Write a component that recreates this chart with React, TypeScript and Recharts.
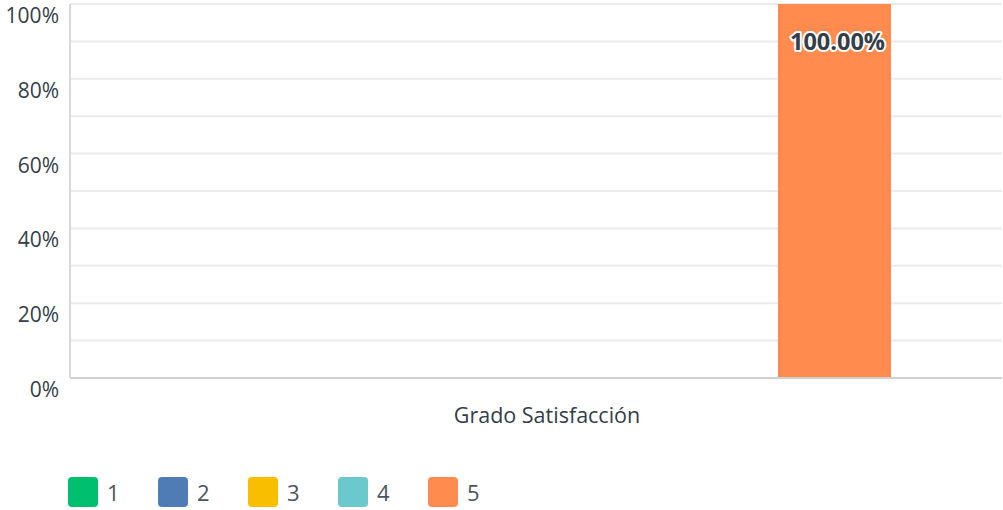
import React from "react";
import { BarChart, Bar, XAxis, YAxis, CartesianGrid, LabelList } from "recharts";

const categories = ["Grado Satisfacción"];
const seriesNames = ["1", "2", "3", "4", "5"];
const seriesColors = ["#00bf6f", "#507cb6", "#f9be00", "#6bc8cd", "#ff8b4f"];
const series1 = [0];
const series2 = [0];
const series3 = [0];
const series4 = [0];
const series5 = [100];
const seriesValues = [series1, series2, series3, series4, series5];
const yTicks = [0, 10, 20, 30, 40, 50, 60, 70, 80, 90, 100];
const yLabelTicks = [0, 20, 40, 60, 80, 100];

const data = categories.map((c, i) => {
  const row: any = { category: c };
  seriesNames.forEach((s, k) => {
    row["s" + s] = seriesValues[k][i];
  });
  return row;
});

const FONT = "'Open Sans', sans-serif";
const TEXT = "#333e48";

const YTick = (props: any) => {
  const { x, y, payload } = props;
  if (!yLabelTicks.includes(payload.value)) return null;
  return (
    <text x={x - 3} y={y + 19} textAnchor="end" fill={TEXT} fontSize={21} fontFamily={FONT}>
      {payload.value + "%"}
    </text>
  );
};

const XTick = (props: any) => {
  const { x, y, payload } = props;
  return (
    <text x={x + 11} y={y + 37} textAnchor="middle" fill={TEXT} fontSize={21.5} fontFamily={FONT}>
      {payload.value}
    </text>
  );
};

const BarLabel = (props: any) => {
  const { x, y, width, value } = props;
  if (!value) return null;
  return (
    <text
      x={x + width / 2 + 3}
      y={y + 46}
      textAnchor="middle"
      fill={TEXT}
      stroke="#ffffff"
      strokeWidth={4}
      paintOrder="stroke"
      strokeLinejoin="round"
      fontSize={23.5}
      fontWeight={700}
      fontFamily={FONT}
    >
      {value.toFixed(2) + "%"}
    </text>
  );
};

export default function App() {
  return (
    <div style={{ position: "absolute", left: 0, top: 0, width: 1003, height: 510, background: "#fff" }}>
      <BarChart
        width={1003}
        height={510}
        data={data}
        margin={{ top: 4, right: 1, left: 0, bottom: 72 }}
        barGap={36}
        barSize={113}
      >
        <CartesianGrid vertical={false} stroke="#ebebeb" strokeWidth={2} />
        <XAxis
          dataKey="category"
          height={60}
          tickLine={false}
          axisLine={{ stroke: "#d0d0d0", strokeWidth: 2 }}
          tick={<XTick />}
        />
        <YAxis
          width={70}
          domain={[0, 100]}
          ticks={yTicks}
          interval={0}
          tickLine={false}
          axisLine={{ stroke: "#d9d9d9", strokeWidth: 2 }}
          tick={<YTick />}
        />
        {seriesNames.map((s, k) => (
          <Bar key={s} dataKey={"s" + s} fill={seriesColors[k]} isAnimationActive={false}>
            <LabelList dataKey={"s" + s} content={<BarLabel />} />
          </Bar>
        ))}
      </BarChart>
      <div style={{ position: "absolute", left: 68, top: 477, display: "flex", fontFamily: FONT }}>
        {seriesNames.map((s, k) => (
          <div key={s} style={{ display: "flex", alignItems: "center", width: 90, height: 30 }}>
            <div style={{ width: 30, height: 30, borderRadius: 4, background: seriesColors[k] }} />
            <span style={{ marginLeft: 9, fontSize: 22, color: "#4b5560" }}>{s}</span>
          </div>
        ))}
      </div>
    </div>
  );
}
